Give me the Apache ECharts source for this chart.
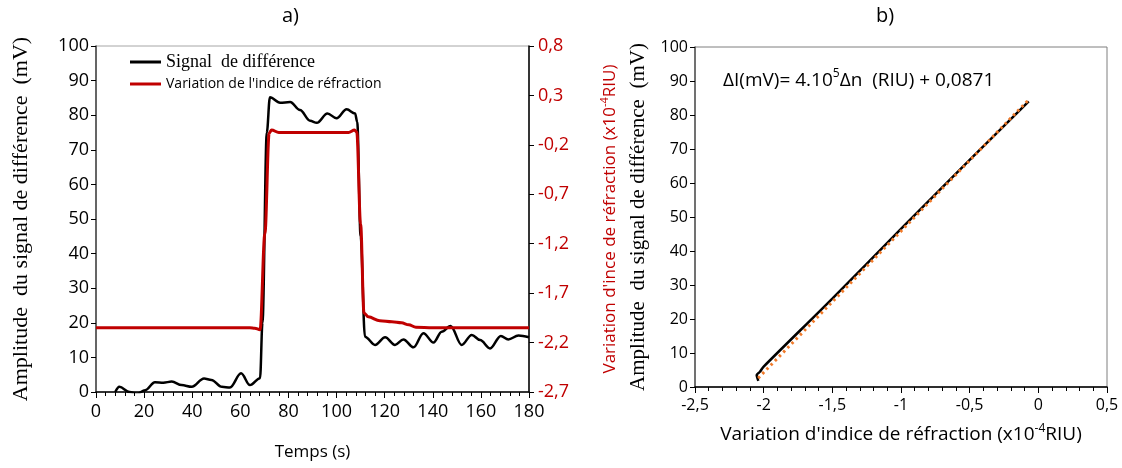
<!DOCTYPE html>
<html><head><meta charset="utf-8">
<script src="https://cdn.jsdelivr.net/npm/echarts@6/dist/echarts.min.js"></script>
<style>html,body{margin:0;padding:0;background:#fff}#c{width:1122px;height:468px}</style>
</head><body><div id="c"></div>
<script>
// ---- Chart a) data ----
const timeS = [8, 9.7, 14, 17, 20.4, 24.5, 28, 31.5, 35.6, 39.8, 44.9, 48, 52.3, 55.7, 60.3, 64, 68.2, 69.2, 71, 72.3, 76.5, 80.7, 84.8, 89, 91.8, 96.2, 100, 104.2, 107.7, 108.6, 110, 111.8, 116, 120.2, 124.3, 127.8, 132, 136.1, 140.3, 143.7, 147.4, 152, 156.2, 159.7, 163.8, 168.3, 171.4, 175.6, 180];
const signalMv = [0, 1.5, 0, -0.5, 0.5, 2.8, 2.7, 3.0, 2.0, 1.5, 3.9, 3.5, 1.5, 1.3, 5.4, 2, 4, 20, 75, 85.2, 83.6, 83.8, 81.5, 78.4, 77.8, 80.5, 79.1, 81.7, 80.5, 78, 45, 16, 13.6, 15.8, 13.6, 15.2, 12.9, 17, 14.3, 17.4, 19.1, 13.6, 16.5, 15, 12.6, 16.2, 15.2, 16.3, 15.8];
const redT = [0, 20, 40, 60, 64, 66, 68.2, 70.2, 72, 73, 76, 90, 100, 105, 107.5, 108.4, 110, 111.4, 113.2, 118, 123, 127, 130, 133, 140, 160, 180];
const indexVar = [-2.05, -2.05, -2.05, -2.05, -2.05, -2.055, -2.07, -1.1, -0.08, -0.05, -0.075, -0.075, -0.075, -0.075, -0.05, -0.07, -1.0, -1.9, -1.94, -1.98, -1.99, -2.0, -2.02, -2.045, -2.05, -2.05, -2.05];
const timeTicks = {min: 0, max: 180, step: 20};
const ampTicks = {min: 0, max: 100, step: 10};
const idxTicks = {min: -2.7, max: 0.8, step: 0.5};
// ---- Chart b) data ----
const riuB = [-2.039, -2.051, -2.027, -2.0, -1.5, -1.0, -0.5, -0.07];
const ampB = [1.8, 3.5, 4.5, 6, 26, 46.5, 66.8, 84];
const trendX = [-2.04, -0.07];
const trendY = [2.6, 84.5];
const riuTicks = {min: -2.5, max: 0.5, step: 0.5};

const RED = '#c00000';
const SANS = 'Open Sans';
const SERIF = 'Liberation Serif';
const comma = v => String(v).replace('.', ',');
const idxShift = -idxTicks.min;

const chart = echarts.init(document.getElementById('c'), null, {renderer: 'canvas'});
chart.setOption({
  animation: false,
  grid: [
    {left: 96, top: 46, width: 433, height: 346, show: true, borderColor: '#a6a6a6', borderWidth: 1},
    {left: 695, top: 47, width: 412, height: 340, show: true, borderColor: '#7f7f7f', borderWidth: 1}
  ],
  graphic: [
    {type: 'text', left: 282, top: 6, style: {text: 'a)', font: '20px ' + SANS, fill: '#000'}},
    {type: 'text', left: 876, top: 6, style: {text: 'b)', font: '20px ' + SANS, fill: '#000'}},
    {type: 'text', left: 723, top: 68, style: {
      text: '{t|ΔI(mV)= 4.10}{s|5}{t|Δn  (RIU) + 0,0871}',
      rich: {t: {fontFamily: SANS, fontSize: 19, fill: '#000', lineHeight: 26}, s: {fontFamily: SANS, fontSize: 12, fill: '#000', verticalAlign: 'top', lineHeight: 14}}
    }}
  ],
  legend: {
    left: 125, top: 47, orient: 'vertical', itemWidth: 31, itemHeight: 3, itemGap: 4, icon: 'rect',
    data: [
      {name: 'Signal  de différence', textStyle: {fontFamily: SERIF, fontSize: 18, color: '#000', lineHeight: 20}},
      {name: "Variation de l'indice de réfraction", textStyle: {fontFamily: SANS, fontSize: 14, color: '#000', lineHeight: 16}}
    ]
  },
  xAxis: [
    {gridIndex: 0, type: 'value', min: timeTicks.min, max: timeTicks.max, interval: timeTicks.step,
      name: 'Temps (s)', nameLocation: 'middle', nameGap: 52,
      nameTextStyle: {fontFamily: SANS, fontSize: 17, color: '#000'},
      axisLine: {onZero: false, lineStyle: {color: '#000', width: 1.5}},
      axisTick: {show: true, length: 6, lineStyle: {color: '#000'}},
      minorTick: {show: true, splitNumber: 5, length: 4, lineStyle: {color: '#000'}},
      splitLine: {show: false},
      axisLabel: {fontFamily: SANS, fontSize: 18, color: '#000', margin: 11}},
    {gridIndex: 1, type: 'value', min: riuTicks.min, max: riuTicks.max, interval: riuTicks.step,
      name: '{t|Variation d\'indice de réfraction (x10}{s|-4}{t|RIU)}', nameLocation: 'middle', nameGap: 36,
      nameTextStyle: {rich: {t: {fontFamily: SANS, fontSize: 19, color: '#000', lineHeight: 24}, s: {fontFamily: SANS, fontSize: 12, color: '#000', verticalAlign: 'top', lineHeight: 13}}},
      axisLine: {onZero: false, lineStyle: {color: '#000', width: 1.5}},
      axisTick: {show: true, length: 6, lineStyle: {color: '#000'}},
      minorTick: {show: true, splitNumber: 5, length: 4, lineStyle: {color: '#000'}},
      splitLine: {show: false},
      axisLabel: {fontFamily: SANS, fontSize: 16, color: '#000', margin: 10, formatter: v => comma(v)}}
  ],
  yAxis: [
    {gridIndex: 0, type: 'value', min: ampTicks.min, max: ampTicks.max, interval: ampTicks.step, position: 'left',
      name: 'Amplitude  du signal de différence  (mV)', nameLocation: 'middle', nameGap: 64, nameRotate: 90,
      nameTextStyle: {fontFamily: SERIF, fontSize: 22, color: '#000'},
      axisLine: {show: true, onZero: false, lineStyle: {color: '#404040', width: 1.5}},
      axisTick: {show: true, length: 5, lineStyle: {color: '#000'}},
      splitLine: {show: false},
      axisLabel: {fontFamily: SANS, fontSize: 18, color: '#000', margin: 7}},
    {gridIndex: 0, type: 'value', min: 0, max: idxTicks.max - idxTicks.min, interval: idxTicks.step, position: 'right',
      name: '{t|Variation d\'ince de réfraction (x10}{s|-4}{t|RIU)}', nameLocation: 'middle', nameGap: 70, nameRotate: 90,
      nameTextStyle: {rich: {t: {fontFamily: SANS, fontSize: 17, color: RED, lineHeight: 22}, s: {fontFamily: SANS, fontSize: 11, color: RED, verticalAlign: 'top', lineHeight: 12}}},
      axisLine: {show: true, onZero: false, lineStyle: {color: '#000', width: 1.5}},
      axisTick: {show: true, length: 5, lineStyle: {color: '#000'}},
      splitLine: {show: false},
      axisLabel: {fontFamily: SANS, fontSize: 18, color: RED, margin: 9,
        formatter: v => comma((v - idxShift).toFixed(1))}},
    {gridIndex: 1, type: 'value', min: ampTicks.min, max: ampTicks.max, interval: ampTicks.step,
      name: 'Amplitude  du signal de différence  (mV)', nameLocation: 'middle', nameGap: 46, nameRotate: 90,
      nameTextStyle: {fontFamily: SERIF, fontSize: 21, color: '#000'},
      axisLine: {show: true, onZero: false, lineStyle: {color: '#595959', width: 1.5}},
      axisTick: {show: true, length: 5, lineStyle: {color: '#000'}},
      splitLine: {show: false},
      axisLabel: {fontFamily: SANS, fontSize: 16, color: '#000', margin: 7}}
  ],
  series: [
    {name: 'Signal  de différence', type: 'line', xAxisIndex: 0, yAxisIndex: 0, showSymbol: false, symbol: 'none',
      smooth: 0.35, smoothMonotone: 'x', clip: true,
      lineStyle: {color: '#000', width: 2.5}, itemStyle: {color: '#000'},
      data: timeS.map((t, i) => [t, signalMv[i]])},
    {name: "Variation de l'indice de réfraction", type: 'line', xAxisIndex: 0, yAxisIndex: 1, showSymbol: false, symbol: 'none',
      smooth: 0.35, smoothMonotone: 'x', clip: true,
      lineStyle: {color: RED, width: 3}, itemStyle: {color: RED},
      data: redT.map((t, i) => [t, indexVar[i] + idxShift])},
    {name: 'b', type: 'line', xAxisIndex: 1, yAxisIndex: 2, showSymbol: false, symbol: 'none',
      smooth: 0.3,
      lineStyle: {color: '#000', width: 2.5},
      data: riuB.map((x, i) => [x, ampB[i]])},
    {name: 'trend', type: 'line', xAxisIndex: 1, yAxisIndex: 2, showSymbol: false, symbol: 'none',
      lineStyle: {color: '#f07a2a', width: 3, type: [2.5, 3.5]},
      data: trendX.map((x, i) => [x, trendY[i]])}
  ]
});
</script></body></html>
